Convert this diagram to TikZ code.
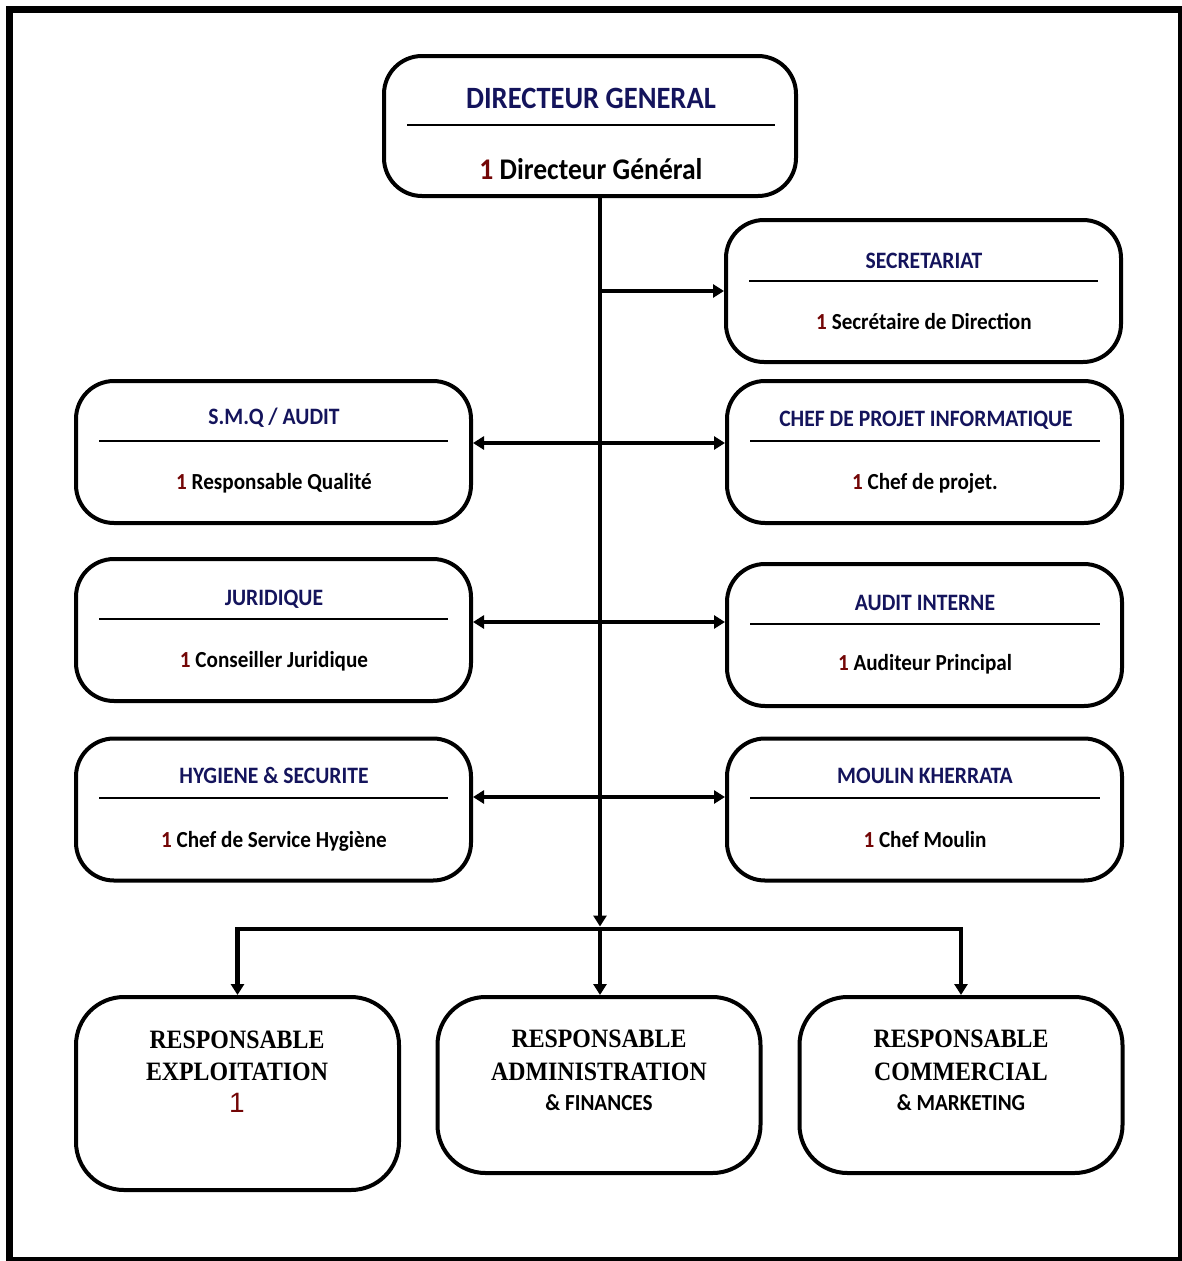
\documentclass[tikz,border=0pt]{standalone}
\usepackage{fontspec}
\usepackage{xcolor}
\usepackage{tikz}
\usetikzlibrary{arrows.meta, positioning}
\newfontfamily\calibold[FakeStretch=0.92]{Carlito}
\newfontfamily\timesbold[FakeStretch=0.9]{Liberation Serif}
\newfontfamily\arialreg{Liberation Sans}
\definecolor{titreblue}{RGB}{20,20,92}
\definecolor{numred}{RGB}{115,6,6}

\begin{document}
\begin{tikzpicture}[
    x=1pt, y=-1pt,
    unit/.style={rectangle, draw=black, line width=4pt, rounded corners=38pt, inner sep=0pt, minimum width=395pt, minimum height=142pt},
    resp/.style={unit, rounded corners=48pt, minimum width=323pt, minimum height=176pt},
    titre/.style={anchor=base, inner sep=0pt, text=titreblue, font=\calibold\bfseries\fontsize{23.5}{26}\selectfont},
    corps/.style={anchor=base, inner sep=0pt, font=\calibold\bfseries\fontsize{23}{26}\selectfont},
    grand/.style={anchor=base, inner sep=0pt, font=\timesbold\bfseries\fontsize{26.5}{30}\selectfont},
    divider/.style={line width=1.6pt},
    link/.style={-{Triangle[length=11pt, width=13pt]}, line width=3.5pt},
    biarrow/.style={{Triangle[length=11pt, width=13pt]}-{Triangle[length=11pt, width=13pt]}, line width=4pt}
  ]
  \useasboundingbox (0,0) rectangle (1182,1261);

  % Frame
  \draw[line width=7pt] (9.5,1261) -- (9.5,9.5) -- (1182,9.5);
  \draw[line width=4pt] (6,1259) -- (1180,1259) -- (1180,13);

  % Direction
  \node[unit, minimum width=412pt, minimum height=140pt] (dg) at (590,126) {};
  \node[titre, font=\calibold\bfseries\fontsize{31}{34}\selectfont] (dg-t) at (591,108) {DIRECTEUR GENERAL};
  \draw[divider] (407,125) -- (775,125);
  \node[corps, font=\calibold\bfseries\fontsize{30}{34}\selectfont] (dg-c) at (591,179) {\textcolor{numred}{1} Directeur Général};

  % Services - right column
  \node[unit] (secr) at (923.5,291) {};
  \node[titre] (secr-t) at (924,268) {SECRETARIAT};
  \draw[divider] (749,281) -- (1098,281);
  \node[corps] (secr-c) at (924,329) {\textcolor{numred}{1} Secrétaire de Direction};

  \node[unit] (chefproj) at (924.5,452) {};
  \node[titre] (chefproj-t) at (926,426) {CHEF DE PROJET INFORMATIQUE};
  \draw[divider] (750,441) -- (1100,441);
  \node[corps] (chefproj-c) at (925,489) {\textcolor{numred}{1} Chef de projet.};

  \node[unit] (audit) at (924.5,635) {};
  \node[titre] (audit-t) at (925,610) {AUDIT INTERNE};
  \draw[divider] (750,624) -- (1100,624);
  \node[corps] (audit-c) at (925,670) {\textcolor{numred}{1} Auditeur Principal};

  \node[unit] (moulin) at (924.5,809.5) {};
  \node[titre] (moulin-t) at (925,783) {MOULIN KHERRATA};
  \draw[divider] (750,798) -- (1100,798);
  \node[corps] (moulin-c) at (925,847) {\textcolor{numred}{1} Chef Moulin};

  % Services - left column
  \node[unit] (smq) at (273.5,452) {};
  \node[titre] (smq-t) at (274,424) {S.M.Q / AUDIT};
  \draw[divider] (99,441) -- (448,441);
  \node[corps] (smq-c) at (274,489) {\textcolor{numred}{1} Responsable Qualité};

  \node[unit] (jurid) at (273.5,630) {};
  \node[titre] (jurid-t) at (274,605) {JURIDIQUE};
  \draw[divider] (99,619) -- (448,619);
  \node[corps] (jurid-c) at (274,667) {\textcolor{numred}{1} Conseiller Juridique};

  \node[unit] (hyg) at (273.5,809.5) {};
  \node[titre] (hyg-t) at (274,783) {HYGIENE \& SECURITE};
  \draw[divider] (99,798) -- (448,798);
  \node[corps] (hyg-c) at (274,847) {\textcolor{numred}{1} Chef de Service Hygiène};

  % Responsables
  \node[resp, minimum height=193pt] (rexp) at (237.5,1093.5) {};
  \node[grand] (rexp-t1) at (237,1048) {RESPONSABLE};
  \node[grand] (rexp-t2) at (237,1080) {EXPLOITATION};
  \node[anchor=base, inner sep=0pt, text=numred, font=\arialreg\fontsize{28}{30}\selectfont] (rexp-n) at (237,1112) {1};

  \node[resp] (radm) at (599,1085) {};
  \node[grand] (radm-t1) at (599,1047) {RESPONSABLE};
  \node[grand] (radm-t2) at (599,1080) {ADMINISTRATION};
  \node[corps] (radm-t3) at (599,1110) {\& FINANCES};

  \node[resp] (rcom) at (961,1085) {};
  \node[grand] (rcom-t1) at (961,1047) {RESPONSABLE};
  \node[grand] (rcom-t2) at (961,1080) {COMMERCIAL};
  \node[corps] (rcom-t3) at (961,1110) {\& MARKETING};

  % Connectors
  \coordinate (jonction) at (600,929);
  \draw[link, shorten >=2.5pt] ([xshift=10pt]dg.south) -- (jonction);
  \draw[link, line width=4.5pt] (secr.west -| jonction) -- (secr.west);
  \draw[biarrow] ([yshift=9pt]smq.east) -- ([yshift=9pt]smq.east -| chefproj.west);
  \draw[biarrow] ([yshift=8pt]jurid.east) -- ([yshift=8pt]jurid.east -| audit.west);
  \draw[biarrow] ([yshift=12.5pt]hyg.east) -- ([yshift=12.5pt]hyg.east -| moulin.west);
  \draw[link] (jonction) -- (jonction |- radm.north);
  \draw[link, line width=4.5pt] (jonction) -| (rexp.north);
  \draw[link, line width=4.5pt] (jonction) -| (rcom.north);

\end{tikzpicture}
\end{document}
